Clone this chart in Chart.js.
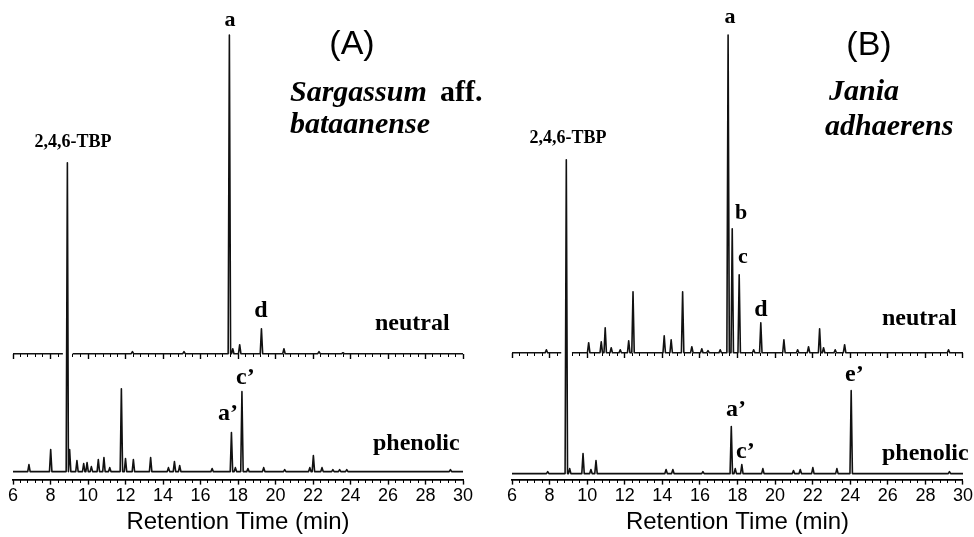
<!DOCTYPE html>
<html>
<head>
<meta charset="utf-8">
<script src="https://cdn.jsdelivr.net/npm/chart.js@4.4.0/dist/chart.umd.min.js"></script>
<style>
  html, body { margin: 0; padding: 0; background: #fff; overflow: hidden; }
  .panel { position: absolute; top: 0; width: 487px; height: 537px; }
  #wrapA { left: 0; }
  #wrapB { left: 487px; }
</style>
</head>
<body>
<div class="panel" id="wrapA"><canvas id="chartA" width="487" height="537"></canvas></div>
<div class="panel" id="wrapB"><canvas id="chartB" width="487" height="537"></canvas></div>
<script>
// x axis
const xTicks = [6, 8, 10, 12, 14, 16, 18, 20, 22, 24, 26, 28, 30];

// (A) Sargassum aff. bataanense - peak retention times (min) and heights
const neutralA_t = [12.37, 15.12, 17.54, 17.72, 18.09, 19.25, 20.45, 22.32, 23.6];
const neutralA_h = [2, 2, 319, 5, 9, 25, 5, 2, 1];
const phenolicA_t = [6.85, 8.01, 8.9, 9.02, 9.41, 9.77, 9.95, 10.18, 10.55, 10.85, 11.16, 11.78, 12.0,
  12.42, 13.34, 14.29, 14.61, 14.89, 16.62, 17.65, 17.86, 18.21, 18.53, 19.37, 20.49, 21.83, 22.02,
  22.48, 23.06, 23.42, 23.8, 29.33];
const phenolicA_h = [7, 22, 309, 22, 11, 8, 9, 5, 12, 14, 4, 83, 13,
  12, 14, 4, 10, 6, 3, 39, 4, 80, 3, 4, 2, 4, 16,
  4, 2, 2, 2, 2];

// (B) Jania adhaerens
const neutralB_t = [7.83, 10.08, 10.75, 10.96, 11.28, 11.76, 12.21, 12.44, 14.1, 14.47, 15.08, 15.57,
  16.1, 16.43, 17.08, 17.5, 17.72, 18.09, 18.86, 19.24, 20.47, 21.2, 21.78, 22.37, 22.58, 23.2, 23.7, 29.23];
const neutralB_h = [3, 10, 11, 25, 5, 3, 12, 61, 17, 13, 61, 6,
  4, 2, 3, 318, 124, 78, 3, 30, 13, 3, 6, 24, 5, 3, 8, 3];
const phenolicB_t = [7.9, 8.89, 9.07, 9.78, 10.2, 10.47, 14.2, 14.56, 16.16, 17.67, 17.88, 18.23,
  19.35, 20.98, 21.34, 22.01, 23.29, 24.05, 29.28];
const phenolicB_h = [2, 314, 5, 20, 4, 13, 4, 4, 2, 47, 5, 9,
  5, 3, 4, 6, 5, 83, 2];

// where the neutral trace is broken (TBP line passes through)
const gapA = [8.66, 9.18];
const gapB = [8.62, 9.19];

const PEAK_HW = 0.065;   // half width of a peak, min
const SERIF = '"Liberation Serif", "Times New Roman", serif';
const SANS = '"Liberation Sans", Arial, sans-serif';

function buildTrace(times, heights, base, gap) {
  let pts = [{x: xTicks[0], y: base}, {x: xTicks[xTicks.length - 1], y: base}];
  times.forEach((t, i) => {
    pts.push({x: t - PEAK_HW, y: base}, {x: t, y: base + heights[i]}, {x: t + PEAK_HW, y: base});
  });
  if (gap) {
    pts.push({x: gap[0], y: base}, {x: (gap[0] + gap[1]) / 2, y: null}, {x: gap[1], y: base});
  }
  pts.sort((a, b) => a.x - b.x);
  return pts;
}

const textPlugin = {
  id: 'panelText',
  afterDraw(chart, args, opts) {
    const ctx = chart.ctx;
    (opts.items || []).forEach(it => {
      ctx.save();
      ctx.font = it.font;
      ctx.fillStyle = '#000';
      ctx.textAlign = it.align || 'left';
      ctx.textBaseline = 'alphabetic';
      ctx.fillText(it.text, it.x, it.y);
      ctx.restore();
    });
  }
};

function makeScales(yMin, yMax, neutralBase, gap) {
  const inGap = c => c.tick && c.tick.value > gap[0] && c.tick.value < gap[1];
  const midColor = c => inGap(c) ? 'rgba(0,0,0,0)' : '#000';
  return {
    x: {
      type: 'linear', position: 'bottom', min: 6, max: 30,
      afterBuildTicks: s => { s.ticks = xTicks.map(v => ({value: v})); },
      ticks: {autoSkip: false, maxRotation: 0, padding: 1, color: '#000',
        font: {family: SANS, size: 18}},
      grid: {drawOnChartArea: false, tickLength: 5, color: '#000', tickWidth: 1.4},
      border: {display: true, color: '#000', width: 1.8},
      title: {display: true, text: 'Retention Time (min)', color: '#000',
        font: {family: SANS, size: 24}, padding: {top: 0, bottom: 0}}
    },
    xMinor: {
      type: 'linear', position: {y: yMin}, min: 6, max: 30,
      ticks: {display: false, stepSize: 0.4},
      grid: {drawOnChartArea: false, tickLength: 3, color: '#000', tickWidth: 1},
      border: {display: false}
    },
    xMid: {
      type: 'linear', position: {y: neutralBase}, min: 6, max: 30,
      ticks: {display: false, stepSize: 2},
      grid: {drawOnChartArea: false, tickLength: 5, color: midColor, tickColor: midColor, tickWidth: 1.4},
      border: {display: false}
    },
    xMidMinor: {
      type: 'linear', position: {y: neutralBase}, min: 6, max: 30,
      ticks: {display: false, stepSize: 0.4},
      grid: {drawOnChartArea: false, tickLength: 3, color: midColor, tickColor: midColor, tickWidth: 1},
      border: {display: false}
    },
    y: {display: false, min: yMin, max: yMax}
  };
}

function makeChart(id, cfg) {
  const lineStyle = {
    borderColor: '#111', borderWidth: 1.6, pointRadius: 0, tension: 0, fill: false,
    borderJoinStyle: 'round', xAxisID: 'x', yAxisID: 'y'
  };
  return new Chart(document.getElementById(id), {
    type: 'line',
    data: {
      datasets: [
        Object.assign({label: 'neutral', data: buildTrace(cfg.nt, cfg.nh, cfg.neutralBase, cfg.gap)}, lineStyle),
        Object.assign({label: 'phenolic', data: buildTrace(cfg.pt, cfg.ph, 0, null)}, lineStyle)
      ]
    },
    options: {
      responsive: false,
      animation: false,
      spanGaps: false,
      layout: {padding: cfg.padding},
      scales: makeScales(cfg.yMin, cfg.yMax, cfg.neutralBase, cfg.gap),
      plugins: {
        legend: {display: false},
        tooltip: {enabled: false},
        panelText: {items: cfg.labels}
      }
    },
    plugins: [textPlugin]
  });
}

const bold = s => 'bold ' + s + 'px ' + SERIF;
const boldItalic = s => 'italic bold ' + s + 'px ' + SERIF;

makeChart('chartA', {
  nt: neutralA_t, nh: neutralA_h, pt: phenolicA_t, ph: phenolicA_h,
  neutralBase: 118, yMin: -8, yMax: 472, gap: gapA,
  padding: {left: 13, right: 24, top: 0, bottom: 0},
  labels: [
    {text: 'a', x: 230, y: 26, font: bold(22), align: 'center'},
    {text: '(A)', x: 352, y: 54, font: '34px ' + SANS, align: 'center'},
    {text: 'Sargassum', x: 290, y: 101, font: boldItalic(30)},
    {text: 'aff.', x: 440, y: 101, font: bold(30)},
    {text: 'bataanense', x: 290, y: 133, font: boldItalic(30)},
    {text: '2,4,6-TBP', x: 73, y: 147, font: bold(18), align: 'center'},
    {text: 'd', x: 261, y: 317, font: bold(24), align: 'center'},
    {text: 'neutral', x: 375, y: 330, font: bold(24)},
    {text: 'c\u2019', x: 236, y: 384, font: bold(24)},
    {text: 'a\u2019', x: 218, y: 420, font: bold(24)},
    {text: 'phenolic', x: 373, y: 450, font: bold(24)}
  ]
});

makeChart('chartB', {
  nt: neutralB_t, nh: neutralB_h, pt: phenolicB_t, ph: phenolicB_h,
  neutralBase: 121, yMin: -6, yMax: 474, gap: gapB,
  padding: {left: 25, right: 11, top: 0, bottom: 0},
  labels: [
    {text: 'a', x: 243, y: 23, font: bold(22), align: 'center'},
    {text: '(B)', x: 382, y: 55, font: '34px ' + SANS, align: 'center'},
    {text: 'Jania', x: 342, y: 100, font: boldItalic(30)},
    {text: 'adhaerens', x: 338, y: 135, font: boldItalic(30)},
    {text: '2,4,6-TBP', x: 81, y: 143, font: bold(18), align: 'center'},
    {text: 'b', x: 254, y: 219, font: bold(22), align: 'center'},
    {text: 'c', x: 256, y: 263, font: bold(22), align: 'center'},
    {text: 'd', x: 274, y: 316, font: bold(24), align: 'center'},
    {text: 'neutral', x: 395, y: 325, font: bold(24)},
    {text: 'e\u2019', x: 358, y: 381, font: bold(24)},
    {text: 'a\u2019', x: 239, y: 416, font: bold(24)},
    {text: 'c\u2019', x: 249, y: 458, font: bold(24)},
    {text: 'phenolic', x: 395, y: 460, font: bold(24)}
  ]
});
</script>
</body>
</html>
